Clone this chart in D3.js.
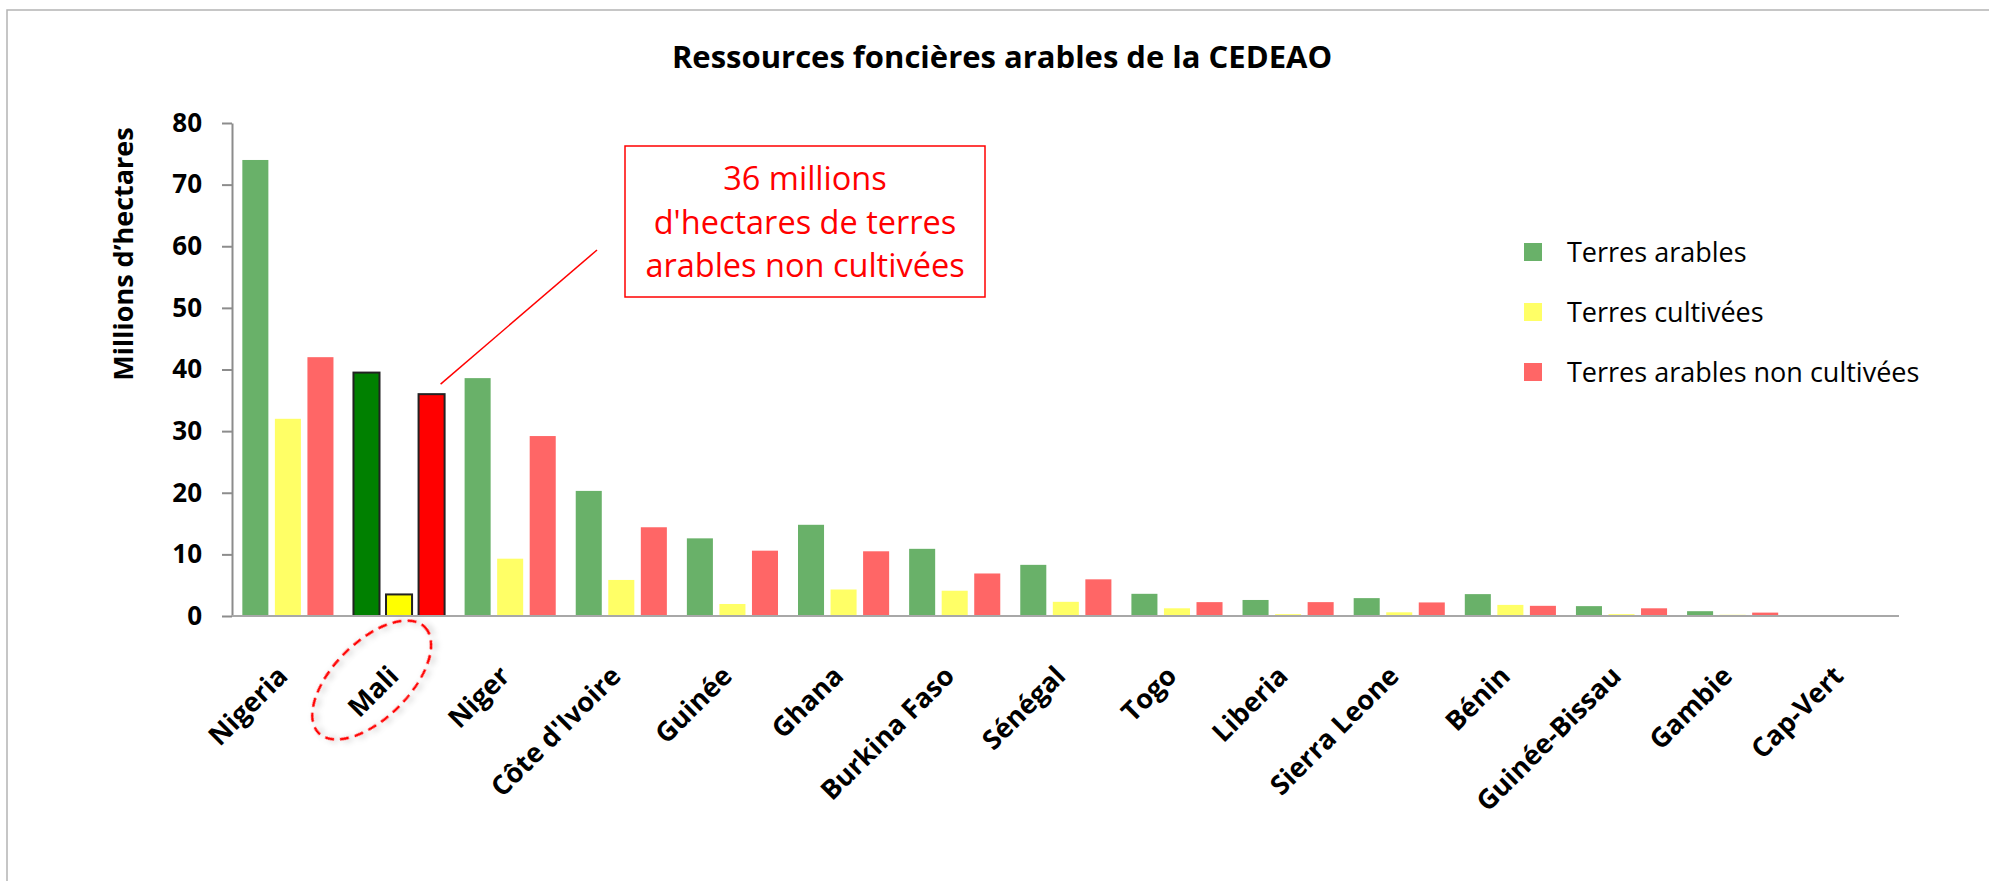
<!DOCTYPE html>
<html>
<head>
<meta charset="utf-8">
<script src="https://cdn.jsdelivr.net/npm/d3@7"></script>
<style>
  html, body { margin: 0; padding: 0; background: #fff; overflow: hidden; }
  svg { display: block; }
  text { font-family: 'Open Sans', sans-serif; }
</style>
</head>
<body>
<svg id="chart"></svg>
<script>
const countries = ['Nigeria', 'Mali', 'Niger', "Côte d'Ivoire", 'Guinée', 'Ghana', 'Burkina Faso',
  'Sénégal', 'Togo', 'Liberia', 'Sierra Leone', 'Bénin', 'Guinée-Bissau', 'Gambie', 'Cap-Vert'];
const terresArables = [74, 39.5, 38.6, 20.3, 12.6, 14.8, 10.9, 8.3, 3.6, 2.6, 2.9, 3.55, 1.6, 0.78, 0.05];
const terresCultivees = [32, 3.5, 9.3, 5.85, 1.95, 4.3, 4.1, 2.3, 1.25, 0.3, 0.6, 1.8, 0.3, 0.2, 0.02];
const nonCultivees = [42, 36, 29.2, 14.4, 10.6, 10.5, 6.9, 5.95, 2.25, 2.25, 2.2, 1.65, 1.25, 0.55, 0.03];
const seriesNames = ['Terres arables', 'Terres cultivées', 'Terres arables non cultivées'];
const yTicks = [0, 10, 20, 30, 40, 50, 60, 70, 80];
const highlight = 'Mali';
const noteLines = ['36 millions', "d'hectares de terres", 'arables non cultivées'];

const width = 1989;
const height = 881;
const margin = { top: 123, right: 90, bottom: 265, left: 232 };
const innerWidth = width - margin.left - margin.right;
const innerHeight = height - margin.top - margin.bottom;

const paleColors = ['#69b169', '#ffff66', '#ff6666'];
const strongColors = ['#008000', '#ffff00', '#ff0000'];

const data = countries.map((c, i) => ({
  country: c,
  values: [terresArables[i], terresCultivees[i], nonCultivees[i]]
}));

const svg = d3.select('#chart')
  .attr('width', width)
  .attr('height', height);

svg.append('rect')
  .attr('width', width).attr('height', height)
  .attr('fill', '#fff');

// chart frame (top and left edges are visible)
svg.append('path')
  .attr('d', `M7,${height} V10 H${width}`)
  .attr('fill', 'none')
  .attr('stroke', '#b4b4b4')
  .attr('stroke-width', 1.5);

const defs = svg.append('defs');
defs.append('filter')
  .attr('id', 'shadow')
  .attr('x', '-30%').attr('y', '-30%').attr('width', '160%').attr('height', '160%')
  .append('feDropShadow')
  .attr('dx', 2).attr('dy', 3)
  .attr('stdDeviation', 3)
  .attr('flood-color', '#000')
  .attr('flood-opacity', 0.3);

svg.append('text')
  .attr('x', 1002).attr('y', 68)
  .attr('text-anchor', 'middle')
  .attr('font-size', 31)
  .attr('font-weight', 'bold')
  .text('Ressources foncières arables de la CEDEAO');

const g = svg.append('g')
  .attr('transform', `translate(${margin.left}, ${margin.top})`);

const x0 = d3.scaleBand()
  .domain(countries)
  .range([0, innerWidth]);

const bw = x0.bandwidth();
const x1 = d3.scaleBand()
  .domain(d3.range(3))
  .range([bw * 0.093, bw * 0.913])
  .paddingInner(0.2);

const y = d3.scaleLinear()
  .domain([0, 80])
  .range([innerHeight, 0]);

// bars
const groups = g.selectAll('.group')
  .data(data)
  .enter().append('g')
  .attr('class', 'group')
  .attr('transform', d => `translate(${x0(d.country)}, 0)`);

groups.selectAll('rect')
  .data(d => d.values.map((v, k) => ({ v, k, hi: d.country === highlight })))
  .enter().append('rect')
  .attr('x', d => x1(d.k))
  .attr('y', d => y(d.v))
  .attr('width', x1.bandwidth())
  .attr('height', d => innerHeight - y(d.v))
  .attr('fill', d => d.hi ? strongColors[d.k] : paleColors[d.k])
  .attr('stroke', d => d.hi ? '#222' : 'none')
  .attr('stroke-width', 2);

// y axis
const yAxis = g.append('g')
  .attr('class', 'axis axis--y')
  .call(d3.axisLeft(y)
    .tickValues(yTicks)
    .tickSize(10)
    .tickSizeOuter(0)
    .tickPadding(20));

yAxis.select('.domain').attr('stroke', '#8c8c8c').attr('stroke-width', 2);
yAxis.selectAll('.tick line').attr('stroke', '#8c8c8c').attr('stroke-width', 2);
yAxis.selectAll('.tick text')
  .attr('font-family', "'Open Sans', sans-serif")
  .attr('font-size', 26)
  .attr('font-weight', 'bold')
  .attr('fill', '#000');

// x baseline
g.append('line')
  .attr('x1', 0).attr('x2', innerWidth)
  .attr('y1', innerHeight).attr('y2', innerHeight)
  .attr('stroke', '#a8a8a8')
  .attr('stroke-width', 2);

// x labels
g.selectAll('.xlabel')
  .data(countries)
  .enter().append('text')
  .attr('class', 'xlabel')
  .attr('transform', d => `translate(${x0(d) + bw / 2 - 5}, ${innerHeight + 55}) rotate(-45)`)
  .attr('text-anchor', 'end')
  .attr('dy', '0.35em')
  .attr('font-size', 27)
  .attr('font-weight', 'bold')
  .text(d => d);

// y title
svg.append('text')
  .attr('transform', 'translate(124, 254) rotate(-90)')
  .attr('text-anchor', 'middle')
  .attr('dy', '0.35em')
  .attr('font-size', 27)
  .attr('font-weight', 'bold')
  .text('Millions d’hectares');

// dashed ellipse around Mali label
g.append('ellipse')
  .attr('transform', `translate(${x0(highlight) + bw / 2 - 27}, ${innerHeight + 64}) rotate(-45)`)
  .attr('rx', 75).attr('ry', 38)
  .attr('fill', 'none')
  .attr('stroke', '#ff0000')
  .attr('stroke-width', 2.5)
  .attr('stroke-dasharray', '9 6')
  .attr('filter', 'url(#shadow)');

// annotation
const maliIdx = countries.indexOf(highlight);
g.append('line')
  .attr('x1', x0(highlight) + x1(2) + x1.bandwidth() - 4)
  .attr('y1', y(nonCultivees[maliIdx]) - 10)
  .attr('x2', 597 - margin.left)
  .attr('y2', 250 - margin.top)
  .attr('stroke', '#ff0000')
  .attr('stroke-width', 1.5);

svg.append('rect')
  .attr('x', 625).attr('y', 146)
  .attr('width', 360).attr('height', 151)
  .attr('fill', '#fff')
  .attr('stroke', '#ff0000')
  .attr('stroke-width', 1.5);

svg.append('text')
  .attr('text-anchor', 'middle')
  .attr('font-size', 32.5)
  .attr('fill', '#ff0000')
  .selectAll('tspan')
  .data(noteLines)
  .enter().append('tspan')
  .attr('x', 805)
  .attr('y', (d, i) => 190 + i * 43.5)
  .text(d => d);

// legend
const legend = svg.append('g')
  .attr('transform', 'translate(1524, 243)');

const items = legend.selectAll('g')
  .data(seriesNames)
  .enter().append('g')
  .attr('transform', (d, i) => `translate(0, ${i * 60})`);

items.append('rect')
  .attr('width', 18).attr('height', 18)
  .attr('fill', (d, i) => paleColors[i]);

items.append('text')
  .attr('x', 43).attr('y', 19)
  .attr('font-size', 27)
  .text(d => d);
</script>
</body>
</html>
